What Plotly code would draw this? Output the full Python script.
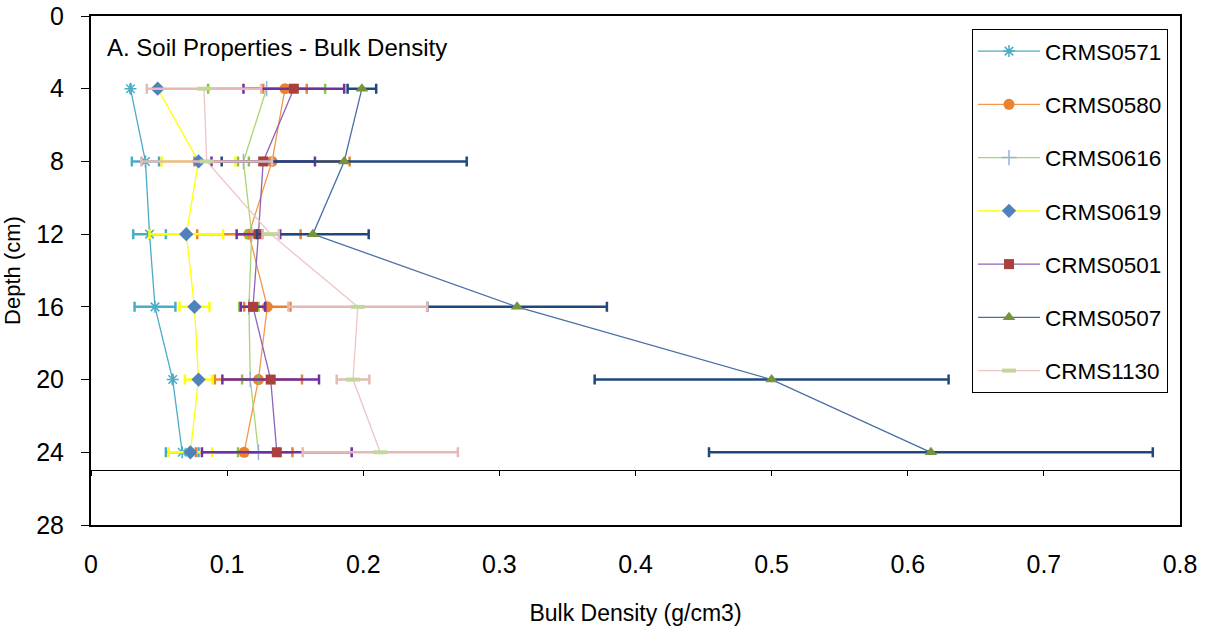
import plotly.graph_objects as go

depth = [4, 8, 12, 16, 20, 24]

series_names = ["CRMS0571", "CRMS0580", "CRMS0616", "CRMS0619", "CRMS0501", "CRMS0507", "CRMS1130"]

crms0571 = [0.029, 0.040, 0.043, 0.047, 0.060, 0.067]
crms0571_err = [0.0, 0.010, 0.012, 0.015, 0.0, 0.012]

crms0580 = [0.1425, 0.133, 0.116, 0.1295, 0.123, 0.1125]
crms0580_err = [0.016, 0.057, 0.038, 0.017, 0.032, 0.0355]

crms0616 = [0.129, 0.112, 0.118, 0.116, 0.117, 0.123]
crms0616_err = [0.043, 0.004, 0.004, 0.007, 0.006, 0.015]

crms0619 = [0.049, 0.079, 0.070, 0.076, 0.079, 0.073]
crms0619_err = [0.0, 0.027, 0.027, 0.011, 0.010, 0.016]

crms0501 = [0.149, 0.1265, 0.123, 0.119, 0.132, 0.1365]
crms0501_err = [0.037, 0.038, 0.016, 0.009, 0.0355, 0.055]

crms0507 = [0.199, 0.186, 0.163, 0.313, 0.500, 0.617]
crms0507_err = [0.0105, 0.090, 0.041, 0.066, 0.130, 0.163]

crms1130 = [0.083, 0.085, 0.132, 0.196, 0.1925, 0.2125]
crms1130_err = [0.042, 0.048, 0.006, 0.051, 0.012, 0.057]

x_ticks = [0, 0.1, 0.2, 0.3, 0.4, 0.5, 0.6, 0.7, 0.8]
x_tick_text = ["0", "0.1", "0.2", "0.3", "0.4", "0.5", "0.6", "0.7", "0.8"]
y_ticks = [0, 4, 8, 12, 16, 20, 24, 28]

values = [crms0571, crms0580, crms0616, crms0619, crms0501, crms0507, crms1130]
errors = [crms0571_err, crms0580_err, crms0616_err, crms0619_err, crms0501_err, crms0507_err, crms1130_err]

styles = [
    dict(line="#4BACC6", err="#4BACC6", msym="asterisk-open", mcol="#4BACC6", msize=10, lw=1.3),
    dict(line="#F79646", err="#E8822E", msym="circle", mcol="#E8822E", msize=11, lw=1.3),
    dict(line="#A9D672", err="#8CC43C", msym="cross-thin-open", mcol="#95B3D7", msize=11, lw=1.3),
    dict(line="#FFFF00", err="#FFFF00", msym="diamond", mcol="#4F81BD", msize=11, lw=1.3),
    dict(line="#8C64B8", err="#7030A0", msym="square", mcol="#A9403D", msize=10, lw=1.3),
    dict(line="#4A6FA5", err="#1F497D", msym="triangle-up", mcol="#77933C", msize=11, lw=1.3),
    dict(line="#EEC4C4", err="#E6B9B8", msym="line-ew-open", mcol="#C3D69B", msize=10, lw=1.3),
]

fig = go.Figure()

for name, vals, errs, st in zip(series_names, values, errors, styles):
    marker = dict(symbol=st["msym"], size=st["msize"], color=st["mcol"])
    if st["msym"].endswith("open"):
        marker["line"] = dict(color=st["mcol"], width=1.5 if st["msym"] != "line-ew-open" else 4)
    else:
        marker["line"] = dict(width=0)
    fig.add_trace(go.Scatter(
        x=vals, y=depth, name=name, mode="lines+markers",
        line=dict(color=st["line"], width=st["lw"]),
        marker=marker,
        error_x=dict(type="data", array=errs, visible=True, color=st["err"], thickness=2.5, width=5),
        legendgroup=name,
    ))

# secondary x axis drawn at depth 25 carrying the tick marks
fig.add_trace(go.Scatter(x=[], y=[], xaxis="x2", yaxis="y", showlegend=False, hoverinfo="skip"))

font_family = "Liberation Sans, Arial, sans-serif"

fig.update_layout(
    width=1208, height=629,
    margin=dict(l=91, r=28, t=16, b=104),
    paper_bgcolor="white", plot_bgcolor="white",
    font=dict(family=font_family, color="black", size=22),
    showlegend=True,
    legend=dict(
        x=0.809, y=0.9745, xanchor="left", yanchor="top",
        bordercolor="black", borderwidth=1, bgcolor="white",
        font=dict(size=22.5, family=font_family), tracegroupgap=21, itemwidth=62,
    ),
    xaxis=dict(
        range=[0, 0.8], tickvals=x_ticks, ticktext=x_tick_text,
        showline=True, linecolor="black", linewidth=2, mirror=True,
        ticks="", showgrid=False, zeroline=False, automargin=False,
        tickfont=dict(size=25), ticklabelstandoff=16,
        title=dict(text="Bulk Density (g/cm3)", font=dict(size=23), standoff=28),
    ),
    xaxis2=dict(
        range=[0, 0.8], overlaying="x", anchor="free", position=3 / 28,
        tickvals=x_ticks, showticklabels=False, ticks="outside", ticklen=5,
        tickcolor="black", tickwidth=1, automargin=False,
        showline=True, linecolor="black", linewidth=1, showgrid=False, zeroline=False,
    ),
    yaxis=dict(
        range=[28, 0], tickvals=y_ticks,
        showline=True, linecolor="black", linewidth=2, mirror=True,
        ticks="outside", ticklen=8, tickcolor="black", showgrid=False, zeroline=False,
        tickfont=dict(size=25), ticklabelstandoff=12, automargin=False,
        ticklabeloverflow="allow",
        title=dict(text="Depth (cm)", font=dict(size=22), standoff=15),
    ),
    annotations=[dict(
        text="A. Soil Properties - Bulk Density", xref="paper", yref="paper",
        x=0.0125, y=0.938, xanchor="left", yanchor="middle", showarrow=False,
        font=dict(size=24, family=font_family),
    )],
)

# remove the browser's default 8 px body margin so the figure sits at the page origin
fig.write_html(
    "out.html",
    config={"displayModeBar": False},
    post_script="document.body.style.margin='0px';",
)
